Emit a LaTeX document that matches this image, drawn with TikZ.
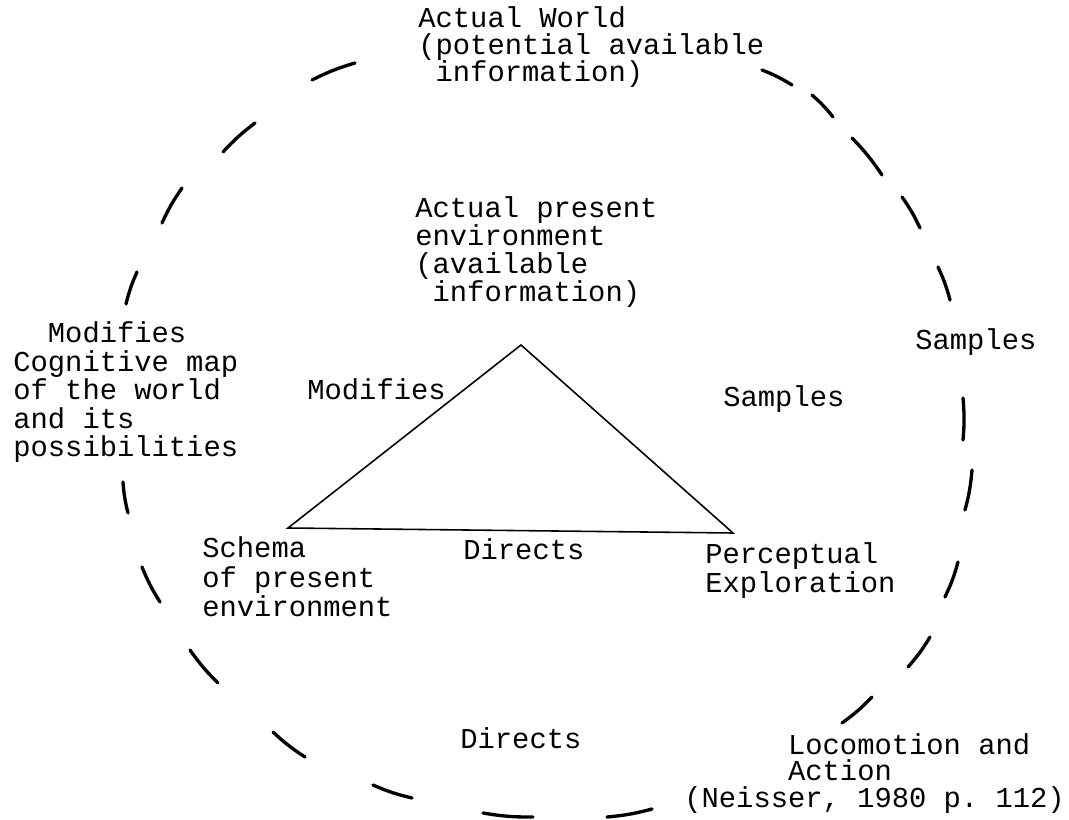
\documentclass[tikz,border=0pt]{standalone}
\usepackage{fontspec}
\setmonofont{Liberation Mono}
\begin{document}
\begin{tikzpicture}[x=0.02cm, y=0.02cm,
    typed/.style={font=\ttfamily\fontsize{16.4}{#1}\selectfont, align=left, anchor=base west, inner sep=0pt},
    typed/.default=16.2pt,
    rim/.style={line width=1.9pt, line cap=round},
    triline/.style={line width=0.9pt}]
    \useasboundingbox (0,0) rectangle (1069,819);
    % outer world: hand drawn dashes round the whole scheme
    \foreach \xa/\ya/\xb/\yb in {355/756/312/739, 255/696/223/667, 182/631/162/596,
        137/547/126/515, 123/337/128/306, 142/252/160/217, 190/169/218/136,
        273/87/305/62, 373/34/412/21, 483/6/533/2, 607/2/652/10, 842/96/872/122,
        908/152/930/182, 945/222/958/257, 965/309/972/349, 963/379/963/421,
        950/519/938/552, 920/591/902/622, 882/644/852/681, 833/702/812/724,
        792/734/762/749}
        \draw[rim] (\xa,\ya) to[bend right=5] (\xb,\yb);
    % corners of the triangle
    \coordinate (apex) at (521,474);
    \coordinate (leftv) at (288,291);
    \coordinate (rightv) at (733,286);
    \draw[triline] (apex) -- (rightv) -- (leftv) -- cycle;
    % texts of the outer cycle (placed by the baseline of their last line)
    \node[typed=15.4pt] (world) at (418,737) {Actual World\\(potential available\\\hphantom{x}information)};
    \node[typed=16.3pt] (cogmap) at (13,362) {\hphantom{xx}Modifies\\Cognitive map\\of the world\\and its\\possibilities};
    \node[typed] (sampout) at (915,469) {Samples};
    \node[typed] (dirout) at (460,71) {Directs};
    \node[typed=14.8pt] (locom) at (684,12) {\hphantom{xxxxxx}Locomotion and\\\hphantom{xxxxxx}Action\\(Neisser, 1980 p. 112)};
    % texts of the inner cycle
    \node[typed=16.1pt] (present) at (415,517) {Actual present\\environment\\(available\\\hphantom{x}information)};
    \node[typed] (modin) at (307,419) {Modifies};
    \node[typed] (sampin) at (723,412) {Samples};
    \node[typed=16.8pt] (schema) at (202,202) {Schema\\of present\\environment};
    \node[typed=17pt] (dirin) at (463,259) {Directs};
    \node[typed=17pt] (percept) at (705,226) {Perceptual\\Exploration};
\end{tikzpicture}
\end{document}
